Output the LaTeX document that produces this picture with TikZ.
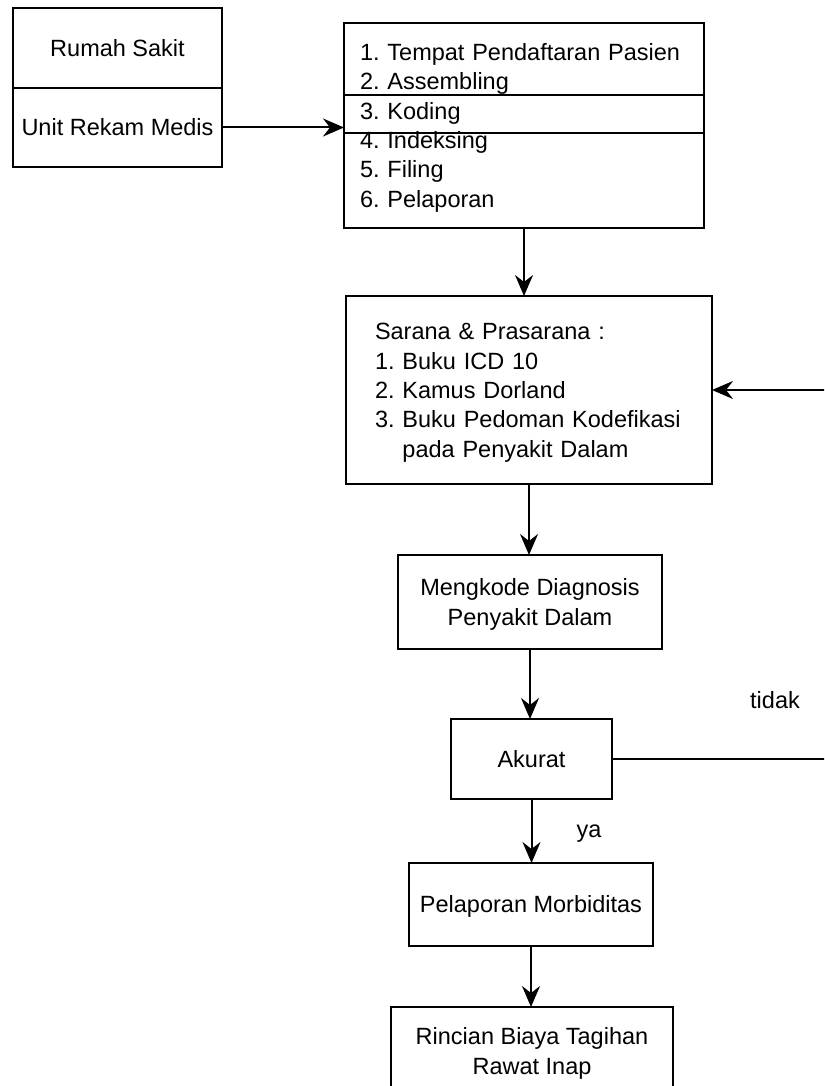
\documentclass[tikz,border=0pt]{standalone}
\usepackage{fontspec}
\setmainfont{Liberation Sans}
\usetikzlibrary{arrows.meta, positioning}
\frenchspacing

\begin{document}
\begin{tikzpicture}[x=1pt,y=-1pt,line width=2pt,
		every node/.style={font=\fontsize{23.5}{29.4}\selectfont},
		kotak/.style={draw,rectangle,inner sep=0pt,outer sep=0pt,align=center,text height=21pt,text depth=4.2pt},
		baris/.style={text depth=#1},
		duabaris/.style={text height=50.4pt},
		daftar/.style={kotak,align=left,inner xsep=#1,inner ysep=0pt},
		panah/.style={-{Stealth[length=21pt,width=18pt,inset=7pt]}}]
		\useasboundingbox(0,0)rectangle(824,1086);
		\clip(0,0)rectangle(824,1086);
		\node[kotak,minimum width=209pt,minimum height=80pt](rs)at(117.5,48){Rumah Sakit};
		\node[kotak,minimum width=209pt,minimum height=79pt,below=0pt of rs](urm){Unit Rekam Medis};
		\node[daftar=16pt,baris=151.2pt,text width=328pt,minimum width=360pt,minimum height=205pt](kegiatan)at(524,125.5){1. Tempat Pendaftaran Pasien\\2. Assembling\\3. Koding\\4. Indeksing\\5. Filing\\6. Pelaporan};
		\draw(kegiatan.west|-0,95)--(kegiatan.east|-0,95);
		\draw(kegiatan.west|-0,133)--(kegiatan.east|-0,133);
		\node[daftar=29pt,baris=121.8pt,text width=308pt,minimum width=366pt,minimum height=188pt](sarana)at(529,390){Sarana \& Prasarana :\\1. Buku ICD 10\\2. Kamus Dorland\\3. Buku Pedoman Kodefikasi\\\hphantom{3.\ }pada Penyakit Dalam};
		\node[kotak,duabaris,minimum width=264pt,minimum height=94pt](mengkode)at(530,602){Mengkode Diagnosis\\Penyakit Dalam};
		\node[kotak,minimum width=161pt,minimum height=80pt](akurat)at(531.5,759){Akurat};
		\node[kotak,minimum width=244pt,minimum height=83pt](pelaporan)at(531,904.5){Pelaporan Morbiditas};
		\node[kotak,duabaris,minimum width=282pt,minimum height=88pt](rincian)at(532,1051){Rincian Biaya Tagihan\\Rawat Inap};
		\coordinate(balik)at(840,0);
		\draw[panah](urm.east)--(urm.east-|kegiatan.west);
		\draw[panah](kegiatan.south)--(kegiatan.south|-sarana.north);
		\draw[panah](sarana.south)--(sarana.south|-mengkode.north);
		\draw[panah](mengkode.south)--(mengkode.south|-akurat.north);
		\draw[panah](akurat.south)--(akurat.south|-pelaporan.north);
		\draw[panah](pelaporan.south)--(pelaporan.south|-rincian.north);
		\draw[panah](akurat.east)--(akurat.east-|balik)--(sarana.east-|balik)--(sarana.east);
		\node(tidak)at(775,700){tidak};
		\node(ya)at(589,834){ya};
	\end{tikzpicture}
\end{document}
